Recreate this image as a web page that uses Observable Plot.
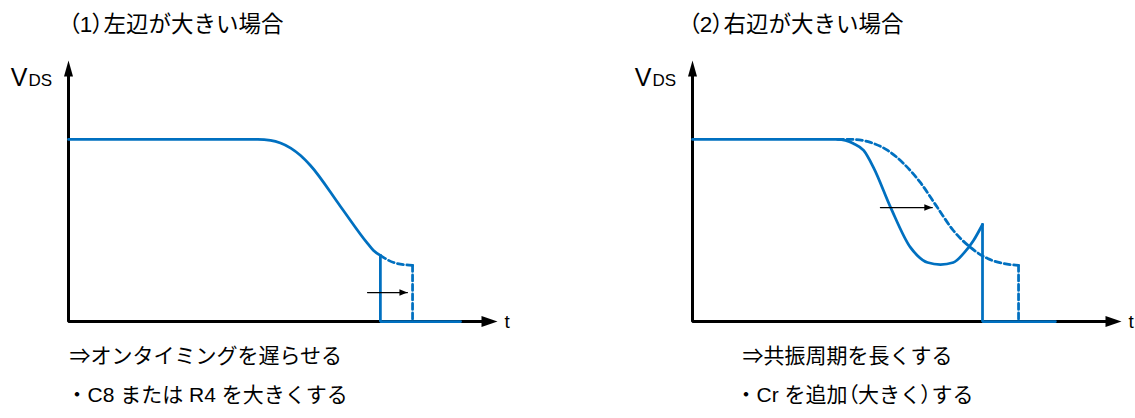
<!DOCTYPE html>
<html><head><meta charset="utf-8">
<script src="https://cdn.jsdelivr.net/npm/d3@7"></script>
<script src="https://cdn.jsdelivr.net/npm/@observablehq/plot@0.6"></script>
<style>
body{margin:0;background:#fff;}
#wrap{position:relative;width:1135px;height:418px;overflow:hidden;background:#fff;}
#wrap svg{position:absolute;top:0;}
</style></head><body><div id="wrap"></div>
<script>
// ---- text ----
const titles = ["（1）左辺が大きい場合", "（2）右辺が大きい場合"];
const notesLeft = ["⇒オンタイミングを遅らせる", "・C8 または R4 を大きくする"];
const notesRight = ["⇒共振周期を長くする", "・Cr を追加（大きく）する"];
const yLabel = ["V", "DS"];
const xLabel = "t";

// ---- axis extents (t: time units, V: % of plateau) ----
const tMax = 100;
const vMax = 143.4;

// ---- left panel: (1) 左辺が大きい場合 ----
const leftSolidT = [0, 44.1, 47.1, 49.4, 51.8, 54.1, 56.4, 63.4, 69.7, 71.1, 72.7];
const leftSolidV = [100, 100, 99.5, 98.1, 95.3, 91.2, 85.7, 63.2, 42.9, 39.0, 36.3];
const leftDropT = [72.7, 72.7, 91.4];
const leftDropV = [36.3, 0, 0];
const leftDashT = [72.7, 75.8, 80.2];
const leftDashV = [36.3, 32.4, 30.8];
const leftDashDropT = [80.2, 80.2];
const leftDashDropV = [30.8, 0];
const leftArrowT = [69.7, 79.0];
const leftArrowV = 15.9;

// ---- right panel: (2) 右辺が大きい場合 ----
const rightSolidT = [0, 33.8, 37.5, 39.9, 42.2, 46.2, 50.8, 52.4, 54.8, 57.8, 60.8, 63.2, 65.5, 67.6];
const rightSolidV = [100, 100, 97.8, 94.0, 84.6, 62.6, 40.7, 36.3, 32.4, 31.3, 32.4, 37.4, 44.5, 53.3];
const rightDropT = [67.6, 67.6, 84.6];
const rightDropV = [53.3, 0, 0];
const rightDashT = [33.8, 37.5, 41.5, 45.5, 49.2, 53.1, 57.1, 60.8, 64.8, 68.8, 72.5, 76.0];
const rightDashV = [100, 100, 98.4, 94.0, 86.8, 76.4, 62.6, 50.0, 40.7, 34.6, 31.9, 30.8];
const rightDashDropT = [76.0, 76.0];
const rightDashDropV = [30.8, 0];
const rightArrowT = [43.8, 55.9];
const rightArrowV = 62.6;

const BLUE = "#0070C0";
const FONT = "'Liberation Sans', Arial, 'Noto Sans CJK JP', sans-serif";
const zip = (T, V) => T.map((t, i) => ({t, V: V[i]}));

const headUp = {draw(c){ c.moveTo(0,0); c.lineTo(-4.5,16); c.lineTo(4.5,16); c.closePath(); }};
const headRight = {draw(c){ c.moveTo(0,0); c.lineTo(-16,-5.5); c.lineTo(-16,5.5); c.closePath(); }};
const headSmall = {draw(c){ c.moveTo(0,0); c.lineTo(-8,-3.2); c.lineTo(-8,3.2); c.closePath(); }};

function panel({width, title, titleDx, notes, notesDx, solid, drop, dash, dashDrop, arrowT, arrowV}) {
  const axisPts = [{t:0, V:vMax - 6}, {t:0, V:0}, {t:tMax - 2, V:0}];
  return Plot.plot({
    width, height: 418,
    marginLeft: 68, marginRight: width - 68 - 429, marginTop: 60, marginBottom: 97,
    x: {domain: [0, tMax], axis: null},
    y: {domain: [0, vMax], axis: null},
    style: {fontFamily: FONT, background: "transparent", overflow: "visible", color: "black"},
    marks: [
      // axes
      Plot.line(axisPts, {x:"t", y:"V", stroke:"black", strokeWidth:3, strokeLinejoin:"miter"}),
      Plot.dot([{t:0, V:vMax}], {x:"t", y:"V", symbol: headUp, fill:"black", stroke:"none"}),
      Plot.dot([{t:tMax, V:0}], {x:"t", y:"V", symbol: headRight, fill:"black", stroke:"none"}),
      // dashed (delayed) waveform
      Plot.line(dash, {x:"t", y:"V", stroke:BLUE, strokeWidth:2.75, strokeDasharray:"6,3.5", curve:"monotone-x"}),
      Plot.line(dashDrop, {x:"t", y:"V", stroke:BLUE, strokeWidth:2.75, strokeDasharray:"6,3.5"}),
      // solid waveform
      Plot.line(solid, {x:"t", y:"V", stroke:BLUE, strokeWidth:2.75, curve:"monotone-x"}),
      Plot.line(drop, {x:"t", y:"V", stroke:BLUE, strokeWidth:2.75, strokeLinejoin:"miter"}),
      // shift arrow
      Plot.line(arrowT.map(t => ({t, V: arrowV})), {x:"t", y:"V", stroke:"black", strokeWidth:1.2}),
      Plot.dot([{t: arrowT[1], V: arrowV}], {x:"t", y:"V", symbol: headSmall, fill:"black", stroke:"none"}),
      // axis labels
      Plot.text([yLabel[0]], {text: d => d, frameAnchor:"top-left", dx:-41, dy:25, textAnchor:"end", lineAnchor:"bottom", fontSize:25}),
      Plot.text([yLabel[1]], {text: d => d, frameAnchor:"top-left", dx:-40, dy:25, textAnchor:"start", lineAnchor:"bottom", fontSize:17}),
      Plot.text([{t:tMax, V:0}], {x:"t", y:"V", text: () => xLabel, dx:7, dy:6, textAnchor:"start", lineAnchor:"bottom", fontSize:19}),
      // title and notes
      Plot.text([title], {text: d => d, frameAnchor:"top-left", dx:titleDx, dy:-29, textAnchor:"start", lineAnchor:"bottom", fontSize:22.5}),
      Plot.text([notes[0]], {text: d => d, frameAnchor:"bottom-left", dx:notesDx[0], dy:41, textAnchor:"start", lineAnchor:"bottom", fontSize:21}),
      Plot.text([notes[1]], {text: d => d, frameAnchor:"bottom-left", dx:notesDx[1], dy:80, textAnchor:"start", lineAnchor:"bottom", fontSize:21})
    ]
  });
}

// proportional (palt) width for full-width parentheses, as in the original typeface
function paltParens(svg) {
  svg.querySelectorAll("text").forEach(el => {
    const s = el.textContent;
    if (!/[（）]/.test(s)) return;
    el.textContent = "";
    for (const part of s.split(/([（）])/)) {
      if (!part) continue;
      const ts = document.createElementNS("http://www.w3.org/2000/svg", "tspan");
      ts.textContent = part;
      if (/[（）]/.test(part)) ts.setAttribute("style", "font-feature-settings:'palt' 1");
      el.appendChild(ts);
    }
  });
}

const wrap = document.getElementById("wrap");
const left = panel({
  width: 530, title: titles[0], titleDx: 0, notes: notesLeft, notesDx: [1, -2],
  solid: zip(leftSolidT, leftSolidV), drop: zip(leftDropT, leftDropV),
  dash: zip(leftDashT, leftDashV), dashDrop: zip(leftDashDropT, leftDashDropV),
  arrowT: leftArrowT, arrowV: leftArrowV
});
left.style.left = "0px";
const right = panel({
  width: 511, title: titles[1], titleDx: -4, notes: notesRight, notesDx: [50, 43],
  solid: zip(rightSolidT, rightSolidV), drop: zip(rightDropT, rightDropV),
  dash: zip(rightDashT, rightDashV), dashDrop: zip(rightDashDropT, rightDashDropV),
  arrowT: rightArrowT, arrowV: rightArrowV
});
right.style.left = "624px";
paltParens(left); paltParens(right);
wrap.append(left, right);
</script></body></html>
